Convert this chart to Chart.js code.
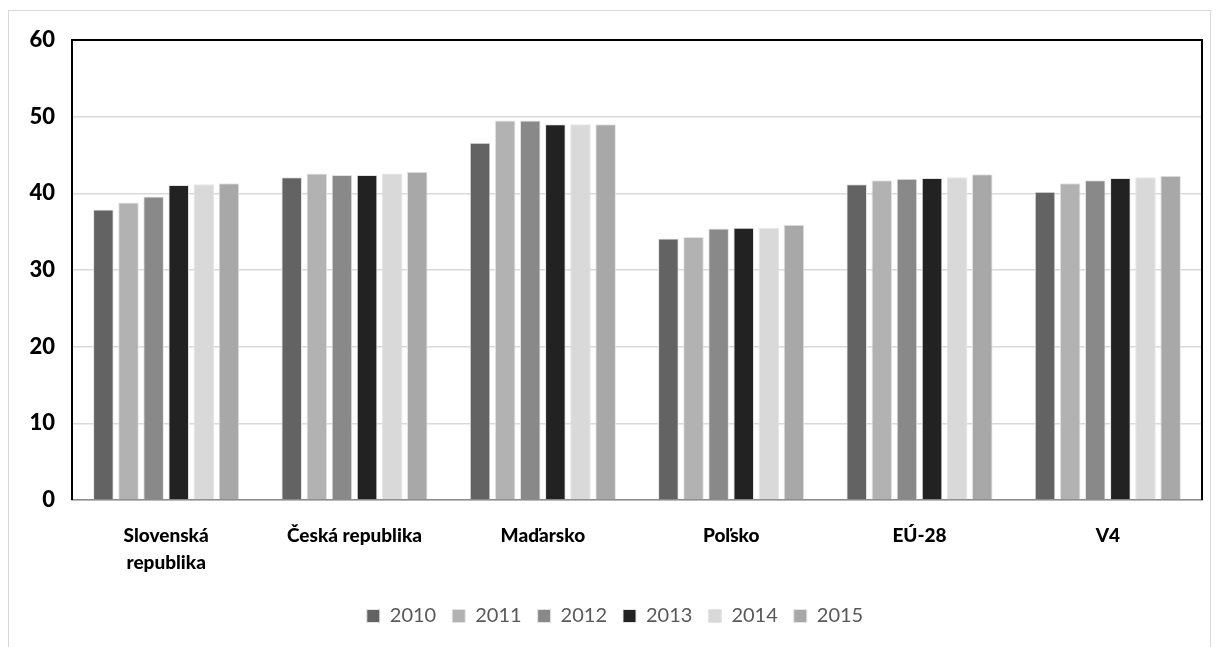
<!DOCTYPE html>
<html>
<head>
<meta charset="utf-8">
<script src="https://cdn.jsdelivr.net/npm/chart.js@4.4.1/dist/chart.umd.min.js"></script>
<style>
  html, body { margin: 0; padding: 0; background: #ffffff; }
  #wrap { position: relative; width: 1219px; height: 647px; }
  #frame {
    position: absolute; left: 8px; top: 10px; width: 1203px; height: 650px;
    border: 1px solid #d9d9d9; box-sizing: border-box;
  }
  #chart { position: absolute; left: 0; top: 0; }
</style>
</head>
<body>
<div id="wrap">
  <div id="frame"></div>
  <canvas id="chart" width="1219" height="647"></canvas>
</div>
<script>
// categories + yearly values
const categories = [["Slovenská", "republika"], "Česká republika", "Maďarsko", "Poľsko", "EÚ-28", "V4"];
const years = ["2010", "2011", "2012", "2013", "2014", "2015"];
const v2010 = [37.9, 42.1, 46.6, 34.1, 41.2, 40.2];
const v2011 = [38.8, 42.6, 49.5, 34.3, 41.7, 41.3];
const v2012 = [39.6, 42.4, 49.5, 35.4, 41.9, 41.7];
const v2013 = [41.1, 42.4, 49.0, 35.5, 42.0, 42.0];
const v2014 = [41.2, 42.6, 49.0, 35.5, 42.1, 42.1];
const v2015 = [41.3, 42.8, 49.0, 35.9, 42.5, 42.3];
const yTicks = [0, 10, 20, 30, 40, 50, 60];

const seriesValues = [v2010, v2011, v2012, v2013, v2014, v2015];
const colors = ["#636363", "#b2b2b2", "#898989", "#222222", "#d9d9d9", "#a8a8a8"];

// black frame on top / left / right of the plot area
const plotFrame = {
  id: "plotFrame",
  afterDraw(chart) {
    const { ctx, chartArea: a } = chart;
    ctx.save();
    ctx.strokeStyle = "#000000";
    ctx.lineWidth = 2;
    ctx.beginPath();
    ctx.moveTo(a.left, a.bottom);
    ctx.lineTo(a.left, a.top);
    ctx.lineTo(a.right, a.top);
    ctx.lineTo(a.right, a.bottom);
    ctx.stroke();
    ctx.restore();
  },
};

new Chart(document.getElementById("chart"), {
  type: "bar",
  data: {
    labels: categories,
    datasets: years.map((y, i) => ({
      label: y,
      data: seriesValues[i],
      backgroundColor: colors[i],
      borderColor: "#e4e4e4",
      borderWidth: 1,
      categoryPercentage: 0.8,
      barPercentage: 0.82,
    })),
  },
  options: {
    responsive: false,
    animation: false,
    layout: { padding: { top: 40, right: 17, left: 28, bottom: 11 } },
    scales: {
      x: {
        grid: { display: false, drawTicks: false },
        border: { color: "#8c8c8c", width: 1.5 },
        ticks: {
          color: "#000000",
          padding: 22,
          maxRotation: 0,
          autoSkip: false,
          font: { family: "Lato", size: 19, weight: "900", lineHeight: 1.42 },
        },
        afterFit(scale) { scale.height = 90; },
      },
      y: {
        min: 0,
        max: 60,
        afterBuildTicks(scale) { scale.ticks = yTicks.map(v => ({ value: v })); },
        grid: { color: "#d9d9d9", lineWidth: 1.5, drawTicks: false },
        border: { display: false },
        ticks: {
          color: "#000000",
          padding: 17,
          font: { family: "Lato", size: 22, weight: "900" },
        },
        afterFit(scale) { scale.width = 44; },
      },
    },
    plugins: {
      legend: {
        position: "bottom",
        labels: {
          boxWidth: 13,
          boxHeight: 13,
          padding: 16,
          color: "#595959",
          font: { family: "Lato", size: 20 },
        },
      },
      tooltip: { enabled: false },
    },
  },
  plugins: [plotFrame],
});
</script>
</body>
</html>
